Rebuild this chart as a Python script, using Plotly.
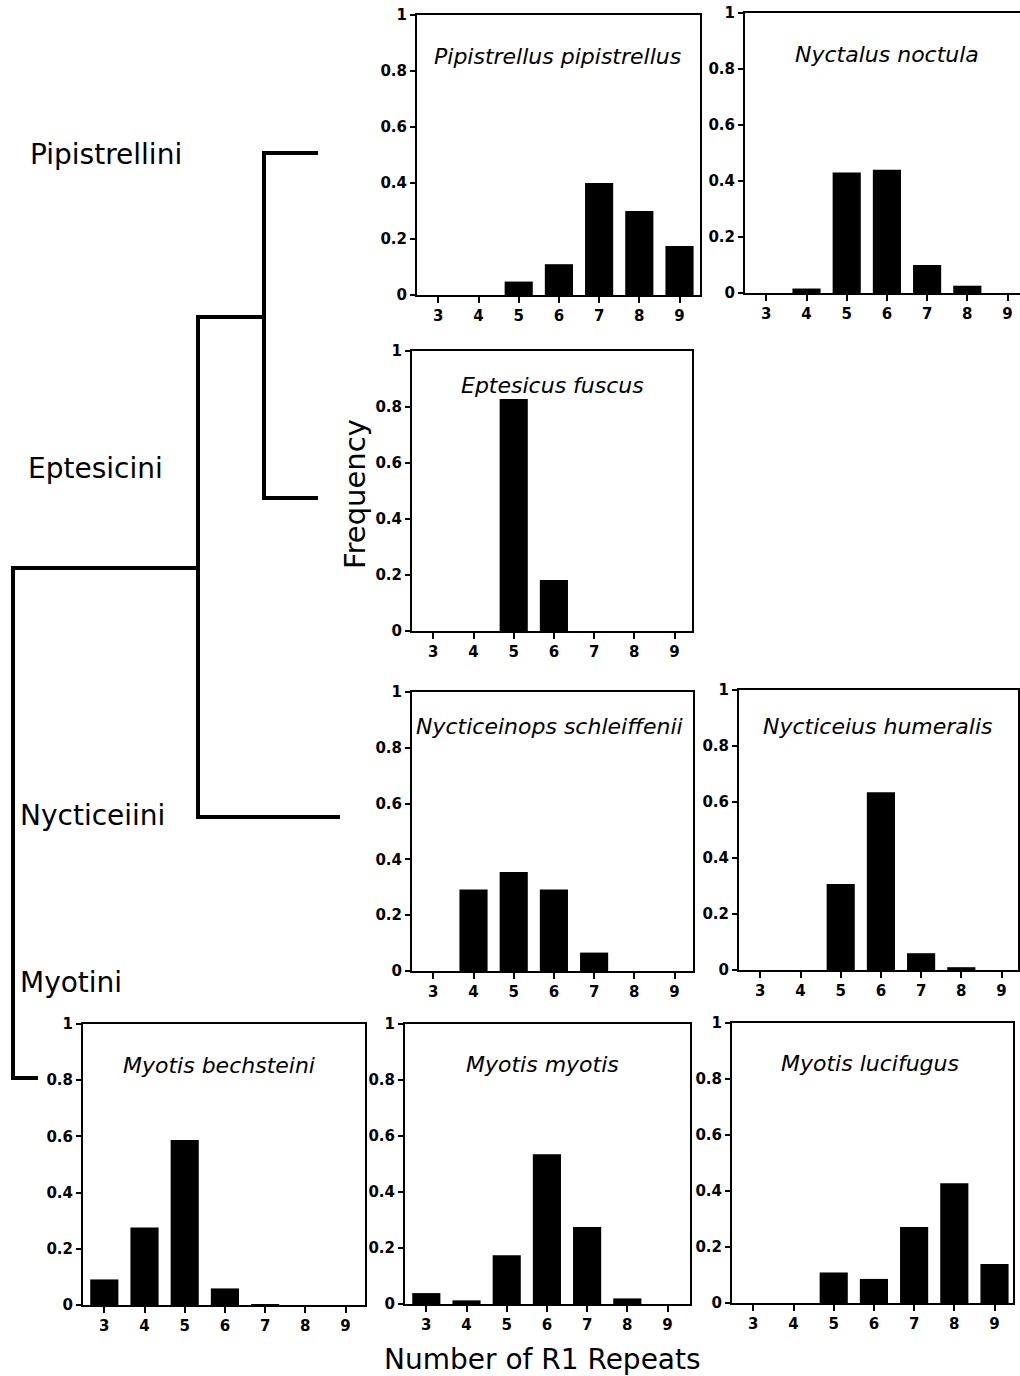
import plotly.graph_objects as go

# ---------------- data ----------------
repeats = [3, 4, 5, 6, 7, 8, 9]
species = [
    "Pipistrellus pipistrellus",
    "Nyctalus noctula",
    "Eptesicus fuscus",
    "Nycticeinops schleiffenii",
    "Nycticeius humeralis",
    "Myotis bechsteini",
    "Myotis myotis",
    "Myotis lucifugus",
]
freq_pipistrellus = [0.0, 0.0, 0.048, 0.11, 0.40, 0.30, 0.175]
freq_nyctalus = [0.0, 0.016, 0.43, 0.44, 0.10, 0.026, 0.0]
freq_eptesicus = [0.0, 0.0, 0.829, 0.182, 0.0, 0.0, 0.0]
freq_nycticeinops = [0.0, 0.292, 0.355, 0.292, 0.066, 0.0, 0.0]
freq_nycticeius = [0.0, 0.0, 0.307, 0.635, 0.06, 0.01, 0.0]
freq_bechsteini = [0.091, 0.276, 0.587, 0.059, 0.003, 0.0, 0.0]
freq_myotis = [0.039, 0.013, 0.174, 0.535, 0.275, 0.02, 0.0]
freq_lucifugus = [0.0, 0.0, 0.109, 0.086, 0.271, 0.428, 0.139]
freqs = [freq_pipistrellus, freq_nyctalus, freq_eptesicus, freq_nycticeinops,
         freq_nycticeius, freq_bechsteini, freq_myotis, freq_lucifugus]

y_tick_vals = [0, 0.2, 0.4, 0.6, 0.8, 1]
y_tick_text = ["0", "0.2", "0.4", "0.6", "0.8", "1"]
tribes = ["Pipistrellini", "Eptesicini", "Nycticeiini", "Myotini"]

# ---------------- layout config (pixels) ----------------
W, H = 1020, 1376
# (left, right, top, bottom, title_x_frac, title_y_frac, show_right_border)
panels = [
    (417, 700, 15, 295, 0.495, 0.85, True),
    (745, 1020, 13, 293, 0.516, 0.85, False),
    (412, 692, 351, 631, 0.50, 0.875, True),
    (412, 693, 692, 971, 0.491, 0.875, True),
    (739, 1018, 690, 970, 0.498, 0.868, True),
    (83, 365, 1024, 1305, 0.482, 0.853, True),
    (405, 690, 1024, 1304, 0.484, 0.857, True),
    (732, 1013, 1023, 1303, 0.491, 0.857, True),
]
PX_PER_UNIT = 40.2
X_LO = 2.47

FONT = "DejaVu Sans"
tick_font = dict(family=FONT, size=15, color="black", weight="bold")

fig = go.Figure()
layout = dict(
    width=W, height=H,
    autosize=False,
    margin=dict(l=0, r=0, t=0, b=0, pad=0, autoexpand=False),
    paper_bgcolor="white",
    plot_bgcolor="rgba(0,0,0,0)",
    showlegend=False,
    annotations=[],
)

for i, (name, vals, p) in enumerate(zip(species, freqs, panels), start=1):
    x0, x1, y0, y1, tx, ty, right_border = p
    xa = "x" if i == 1 else f"x{i}"
    ya = "y" if i == 1 else f"y{i}"
    fig.add_trace(go.Bar(
        x=repeats, y=vals, xaxis=xa, yaxis=ya, width=0.7,
        marker=dict(color="black", line=dict(width=0)),
        hoverinfo="x+y",
    ))
    xk = "xaxis" if i == 1 else f"xaxis{i}"
    yk = "yaxis" if i == 1 else f"yaxis{i}"
    layout[xk] = dict(
        domain=[x0 / W, x1 / W],
        range=[X_LO, X_LO + (x1 - x0) / PX_PER_UNIT],
        anchor=ya, automargin=False,
        tickmode="array", tickvals=repeats,
        ticks="outside", ticklen=6, tickwidth=2, tickcolor="black",
        showline=True, linewidth=2, linecolor="black", mirror=True,
        showgrid=False, zeroline=False, tickfont=tick_font, fixedrange=True,
    )
    layout[yk] = dict(
        domain=[1 - y1 / H, 1 - y0 / H],
        range=[0, 1],
        anchor=xa, automargin=False,
        tickmode="array", tickvals=y_tick_vals, ticktext=y_tick_text,
        ticks="outside", ticklen=5, tickwidth=2, tickcolor="black",
        showline=True, linewidth=2, linecolor="black", mirror=right_border,
        showgrid=False, zeroline=False, tickfont=tick_font, fixedrange=True,
    )
    layout["annotations"].append(dict(
        text=name, xref=f"{xa} domain", yref=f"{ya} domain",
        x=tx, y=ty, xanchor="center", yanchor="middle", showarrow=False,
        font=dict(family=FONT, size=22, color="black", style="italic"),
    ))

# ---------------- dendrogram on a full-page overlay axis ----------------
# tree structure: (x, y) vertices of each bracket in page pixels
tree_paths = [
    [(318, 153), (264, 153), (264, 498), (318, 498)],   # Pipistrellini + Eptesicini
    [(264, 317), (198, 317), (198, 817), (340, 817)],   # + Nycticeiini
    [(198, 568), (13, 568), (13, 1078), (38, 1078)],    # + Myotini
]
dx, dy = [], []
for path in tree_paths:
    for (px, py) in path:
        dx.append(px)
        dy.append(py)
    dx.append(None)
    dy.append(None)
fig.add_trace(go.Scatter(
    x=dx, y=dy, xaxis="x9", yaxis="y9", mode="lines",
    line=dict(color="black", width=4), hoverinfo="skip",
))
layout["xaxis9"] = dict(domain=[0, 1], range=[0, W], visible=False,
                        fixedrange=True, anchor="y9", automargin=False)
layout["yaxis9"] = dict(domain=[0, 1], range=[H, 0], visible=False,
                        fixedrange=True, anchor="x9", automargin=False)

tribe_pos = [(28, 154), (26, 468), (18, 815), (18, 982)]
for t, (px, py) in zip(tribes, tribe_pos):
    layout["annotations"].append(dict(
        text=t, xref="x9", yref="y9", x=px, y=py,
        xanchor="left", yanchor="middle", showarrow=False,
        font=dict(family=FONT, size=28, color="black"),
    ))

layout["annotations"].append(dict(
    text="Frequency", xref="x9", yref="y9", x=355, y=494, textangle=-90,
    xanchor="center", yanchor="middle", showarrow=False,
    font=dict(family=FONT, size=29, color="black"),
))
layout["annotations"].append(dict(
    text="Number of R1 Repeats", xref="x9", yref="y9", x=542, y=1359,
    xanchor="center", yanchor="middle", showarrow=False,
    font=dict(family=FONT, size=28, color="black"),
))

fig.update_layout(**layout)
fig.write_html(
    "out.html",
    config={"displayModeBar": False},
    post_script="document.body.style.margin='0';document.body.style.padding='0';"
                "document.body.style.overflow='hidden';",
)
